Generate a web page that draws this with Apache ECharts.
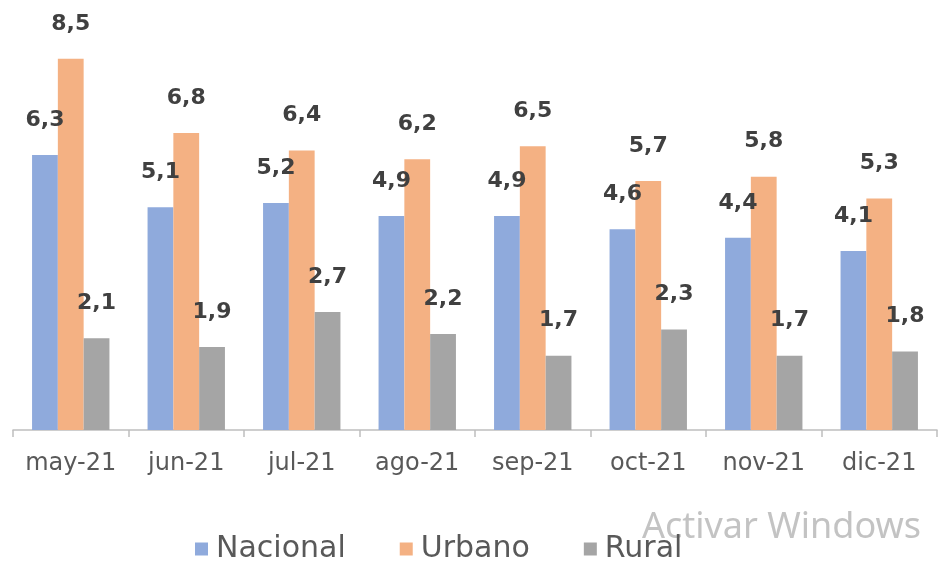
<!DOCTYPE html>
<html>
<head>
<meta charset="utf-8">
<script src="https://cdn.jsdelivr.net/npm/echarts@6/dist/echarts.min.js"></script>
<style>
  html, body { margin: 0; padding: 0; background: #fff; }
  #chart { width: 939px; height: 564px; }
</style>
</head>
<body>
<div id="chart"></div>
<script>
const months = ['may-21', 'jun-21', 'jul-21', 'ago-21', 'sep-21', 'oct-21', 'nov-21', 'dic-21']
const nacional = [6.3, 5.1, 5.2, 4.9, 4.9, 4.6, 4.4, 4.1]
const urbano = [8.5, 6.8, 6.4, 6.2, 6.5, 5.7, 5.8, 5.3]
const rural = [2.1, 1.9, 2.7, 2.2, 1.7, 2.3, 1.7, 1.8]

const seriesDefs = [
  { name: 'Nacional', data: nacional, color: '#8FAADC' },
  { name: 'Urbano', data: urbano, color: '#F4B183' },
  { name: 'Rural', data: rural, color: '#A5A5A5' },
]

const chart = echarts.init(document.getElementById('chart'))
chart.setOption({
  animation: false,
  grid: { left: 13, right: 2, top: 37, bottom: 134 },
  legend: {
    bottom: -5,
    left: 190,
    itemWidth: 13,
    itemHeight: 13,
    itemGap: 54,
    itemStyle: { borderWidth: 0 },
    icon: 'rect',
    textStyle: { fontFamily: 'DejaVu Sans', fontSize: 30, color: '#595959', padding: [0, 0, 0, 3] },
    data: seriesDefs.map((s) => s.name),
  },
  xAxis: {
    type: 'category',
    data: months,
    axisLine: { lineStyle: { color: '#BFBFBF', width: 1.5 } },
    axisTick: { show: true, length: 7, lineStyle: { color: '#BFBFBF', width: 1.5 } },
    axisLabel: { interval: 0, hideOverlap: false, fontFamily: 'DejaVu Sans', fontSize: 24, color: '#595959', margin: 22 },
  },
  yAxis: {
    type: 'value', min: 0, max: 9,
    show: false,
    splitLine: { show: false },
  },
  series: seriesDefs.map((s) => ({
    name: s.name,
    type: 'bar',
    data: s.data,
    barGap: '0%',
    barCategoryGap: '33%',
    itemStyle: { color: s.color },
    label: {
      show: true,
      position: 'top',
      distance: 24,
      fontFamily: 'DejaVu Sans',
      fontWeight: 'bold',
      fontSize: 22,
      color: '#404040',
      formatter: (p) => p.value.toFixed(1).replace('.', ','),
    },
  })),
  graphic: [{
    type: 'text',
    left: 642,
    top: 510,
    style: { text: 'Activar Windows', font: '36px "Noto Sans"', fill: 'rgba(170,170,170,0.7)' },
  }],
})
</script>
</body>
</html>
